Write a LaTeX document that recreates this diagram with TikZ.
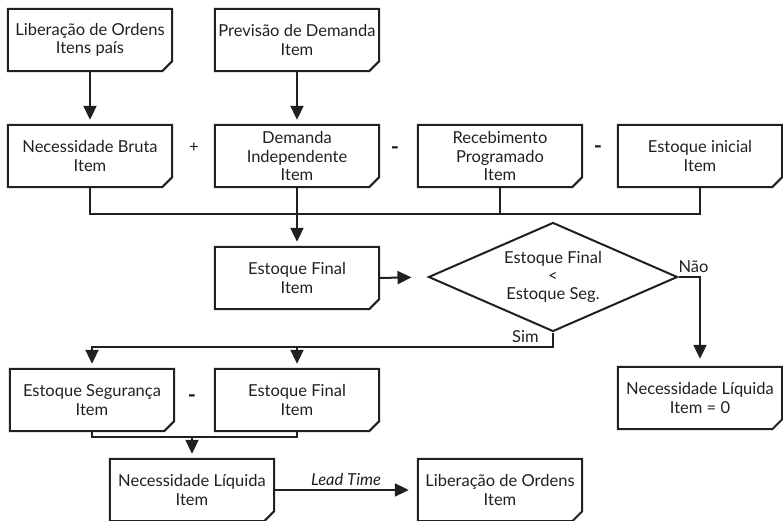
\documentclass[tikz,border=0pt]{standalone}
\usepackage{fontspec}
\setmainfont{Lato}
\usetikzlibrary{shapes.geometric,arrows.meta}

\definecolor{ink}{HTML}{231F20}

\tikzset{
  docbox/.style={minimum width=164pt,minimum height=62pt,align=center,inner sep=2pt},
  docedge/.style={line width=2pt,draw=ink,line join=miter},
  flow/.style={line width=2pt,draw=ink,-{Triangle[length=14pt,width=13pt]},shorten >=5pt},
  link/.style={line width=2pt,draw=ink},
  op/.style={font=\fontsize{22}{22}\selectfont\bfseries},
}

\begin{document}
\begin{tikzpicture}[x=1pt,y=-1pt,font=\fontsize{16.5}{18.3}\selectfont,text=ink]
  \useasboundingbox (0,0) rectangle (783,521);
  % blocos
  \node[docbox] (lib) at (90,40) {Liberação de Ordens\\Itens país};
  \node[docbox] (prev) at (297,40) {Previsão de Demanda\\Item};
  \node[docbox] (nb) at (90,156) {Necessidade Bruta\\Item};
  \node[docbox] (di) at (297,156) {Demanda\\Independente\\Item};
  \node[docbox] (rp) at (500,156) {Recebimento\\Programado\\Item};
  \node[docbox] (ei) at (700,156) {Estoque inicial\\Item};
  \node[docbox] (ef) at (297,278) {Estoque Final\\Item};
  \node[docbox] (nlz) at (700,398) {Necessidade Líquida\\Item = 0};
  \node[docbox] (es) at (92,400) {Estoque Segurança\\Item};
  \node[docbox] (efs) at (297,400) {Estoque Final\\Item};
  \node[docbox] (nl) at (192,490) {Necessidade Líquida\\Item};
  \node[docbox] (lo) at (500,490) {Liberação de Ordens\\Item};
  \foreach \n in {lib,prev,nb,di,rp,ei,ef,nlz,es,efs,nl,lo}
    \draw[docedge] (\n.north west) -- (\n.north east) -- ([yshift=10pt]\n.south east)
      -- ([xshift=-10pt]\n.south east) -- (\n.south west) -- cycle;
  \node[draw=ink,line width=2pt,diamond,aspect=2.3,minimum width=249pt,minimum height=109pt,
    align=center,inner sep=0pt] (dec) at (553,277) {Estoque Final\\<\\Estoque Seg.};
  % operadores
  \node (plus) at (194,148) {+};
  \node[op] (mi1) at (395,151) {-};
  \node[op] (mi2) at (598,150) {-};
  \node[op] (mi3) at (192,399) {-};
  % ligacoes
  \coordinate (busy) at (0,214);
  \coordinate (simy) at (0,347);
  \coordinate (juny) at (0,437);
  \draw[flow] (lib.south) -- (nb.north);
  \draw[flow] (prev.south) -- (di.north);
  \draw[link] (nb.south) |- (busy -| ei.south) -- (ei.south);
  \draw[link] (rp.south) -- (rp.south |- busy);
  \draw[flow] (di.south) -- (ef.north);
  \draw[flow,shorten >=16pt] (ef.east) -- (dec.west);
  \draw[flow,shorten >=8pt] (dec.east) -| node[pos=0.35,above] {Não} (nlz.north);
  \draw[flow] (dec.south) |- node[pos=0.53,above] {Sim} (simy -| es.north) -- (es.north);
  \draw[flow] (efs.north |- simy) -- (efs.north);
  \draw[link] (es.south) |- (juny -| efs.south) -- (efs.south);
  \draw[flow] (nl.north |- juny) -- (nl.north);
  \draw[flow,shorten >=9pt] (nl.east) -- node[above] {\itshape Lead Time} (lo.west);
\end{tikzpicture}
\end{document}
